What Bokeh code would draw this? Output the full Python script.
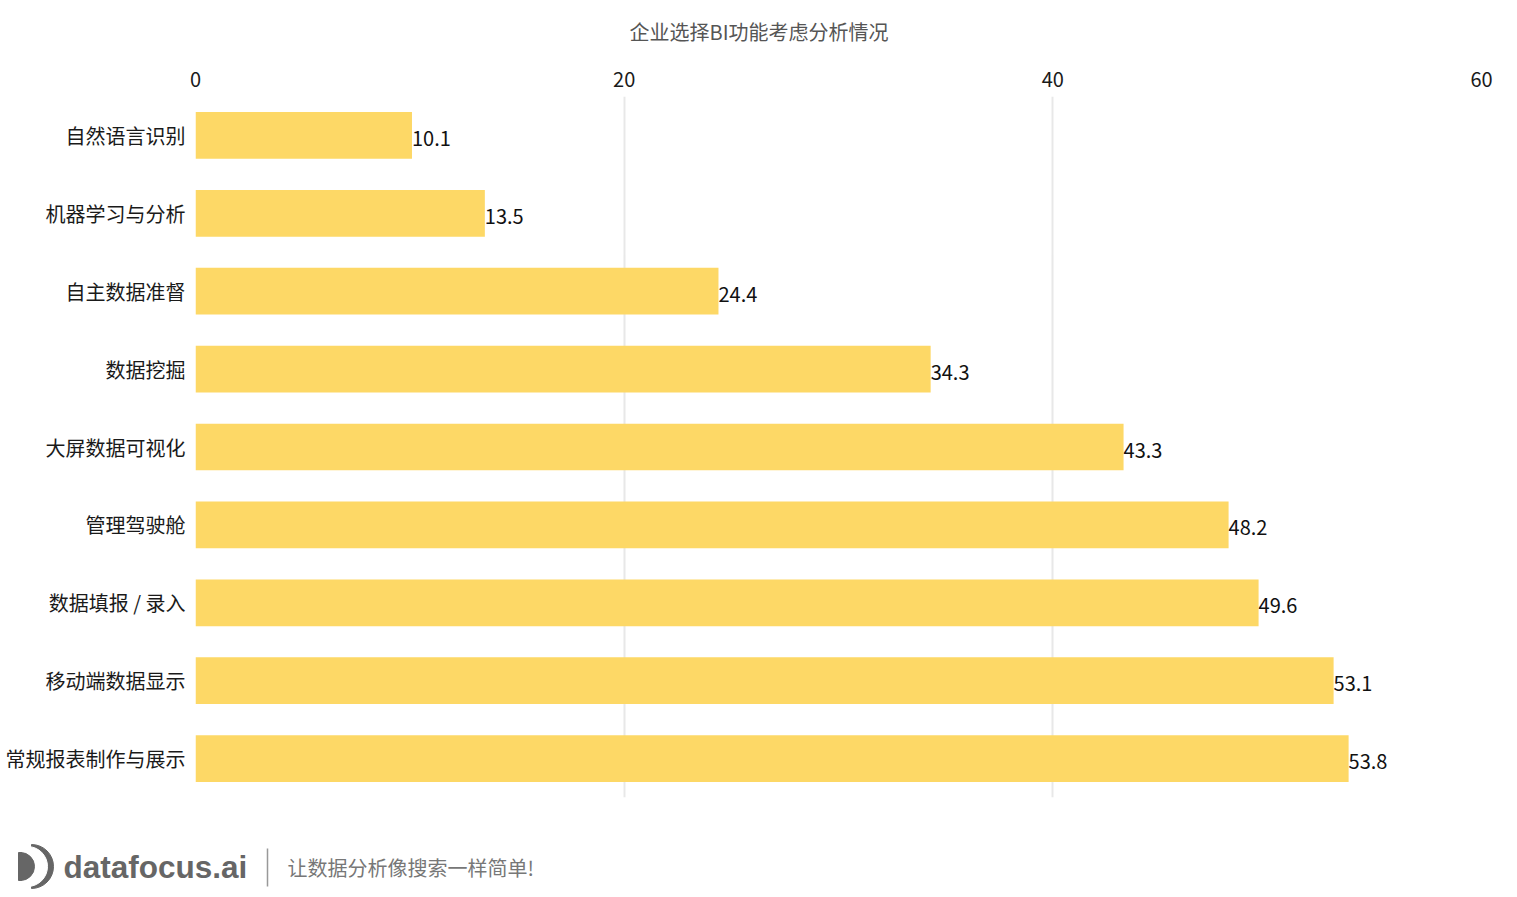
from bokeh.plotting import figure
from bokeh.layouts import column
from bokeh.models import ColumnDataSource, FixedTicker, Range1d, FactorRange
from bokeh.core.properties import value
from bokeh.embed import file_html
from bokeh.resources import INLINE

title_text = "企业选择BI功能考虑分析情况"
categories = ["自然语言识别", "机器学习与分析", "自主数据准督", "数据挖掘", "大屏数据可视化",
              "管理驾驶舱", "数据填报 / 录入", "移动端数据显示", "常规报表制作与展示"]
values = [10.1, 13.5, 24.4, 34.3, 43.3, 48.2, 49.6, 53.1, 53.8]
x_ticks = [0, 20, 40, 60]
footer_brand = "datafocus.ai"
footer_slogan = "让数据分析像搜索一样简单!"

FONT = "Noto Sans CJK SC"
W = 1517
L, R = 195, 36


def blank(height):
    fig = figure(width=W, height=height, x_range=Range1d(0, W), y_range=Range1d(height, 0),
                 output_backend="svg", toolbar_location=None, min_border=0)
    fig.axis.visible = False
    fig.grid.visible = False
    fig.outline_line_color = None
    return fig


# header
h = blank(55)
h.text(x=[W / 2], y=[31], text=[title_text], text_align="center", text_baseline="middle",
       text_font=value(FONT), text_font_size="20px", text_color="#555555")

# main
src = ColumnDataSource(dict(cat=categories, val=values, lab=[f"{v:.1f}" for v in values]))
p = figure(width=W, height=765, y_range=FactorRange(*reversed(categories), range_padding=0),
           x_range=Range1d(0, 60), x_axis_location="above",
           output_backend="svg", toolbar_location=None,
           min_border_left=L, min_border_right=R, min_border_top=41, min_border_bottom=23)
p.outline_line_color = None
p.hbar(y="cat", right="val", left=0, height=0.6, source=src, color="#FDD866", line_color=None)
p.text(x="val", y="cat", text="lab", source=src, text_align="left", text_baseline="middle",
       y_offset=3, text_font=value(FONT), text_font_size="20px", text_color="#111111")
p.xaxis.ticker = FixedTicker(ticks=x_ticks)
p.axis.axis_line_color = None
p.axis.major_tick_line_color = None
p.axis.minor_tick_line_color = None
p.axis.major_tick_out = 0
p.axis.major_tick_in = 0
p.axis.major_label_text_font = FONT
p.axis.major_label_text_font_size = "20px"
p.axis.major_label_text_color = "#1a1a1a"
p.xaxis.major_label_standoff = 10
p.yaxis.major_label_standoff = 10
p.ygrid.grid_line_color = None
p.xgrid.grid_line_color = "#e8e8e8"
p.xgrid.grid_line_width = 2

# footer
f = blank(77)
f.wedge(x=[31], y=[46], radius=22, start_angle=-90, end_angle=90, start_angle_units="deg",
        end_angle_units="deg", color="#666666")
f.wedge(x=[27], y=[46], radius=20, start_angle=-90, end_angle=90, start_angle_units="deg",
        end_angle_units="deg", color="white")
f.wedge(x=[20], y=[46], radius=14, start_angle=-90, end_angle=90, start_angle_units="deg",
        end_angle_units="deg", color="#666666")
f.rect(x=[19.5], y=[46], width=3, height=28, color="#666666")
f.text(x=[63], y=[46], text=[footer_brand], text_align="left", text_baseline="middle",
       text_font=value("Liberation Sans"), text_font_style="bold", text_font_size="31.5px",
       text_color="#666666")
f.segment(x0=[267], y0=[28], x1=[267], y1=[66], line_color="#999999", line_width=1.5)
f.text(x=[287], y=[47], text=[footer_slogan], text_align="left", text_baseline="middle",
       text_font=value(FONT), text_font_size="20px", text_color="#777777")

layout = column(column(h), column(p), column(f), spacing=0)
open("out.html", "w").write(file_html(layout, INLINE))
